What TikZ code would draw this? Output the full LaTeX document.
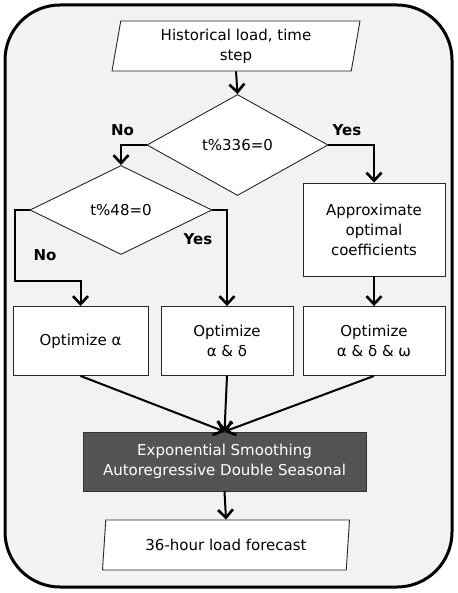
\documentclass[tikz,border=0pt]{standalone}
\usepackage{fontspec}
\setmainfont{DejaVu Sans}
\usetikzlibrary{shapes.geometric,arrows.meta}
\tikzset{
  base/.style={draw=black!85, line width=0.9pt, fill=white, align=center, inner sep=1pt,
    font=\fontsize{15}{20}\selectfont},
  boxn/.style={base, rectangle, minimum width=#1, minimum height=69},
  dia/.style={base, diamond, inner sep=0pt, minimum width=#1},
  io/.style={base, trapezium, trapezium left angle=76.5, trapezium right angle=103.5,
    trapezium stretches body=true, minimum width=248, minimum height=50},
  dark/.style={base, fill=black!67, draw=black!80, text=white!93, minimum width=283, minimum height=59},
  arr/.style={line width=2pt, -{Straight Barb[length=8pt,width=15pt,line width=2.6pt]}},
  lab/.style={font=\bfseries\fontsize{15}{16}\selectfont, inner sep=0pt},
}
\begin{document}
\begin{tikzpicture}[x=1pt,y=-1pt]
\useasboundingbox (0,0) rectangle (457,593);
\draw[line width=3pt, fill=black!5, rounded corners=55] (5,5) rectangle (452,587);

\node[io] (in) at (236,46) {Historical load, time\\step};
\node[dia=181, minimum height=101] (d1) at (237.5,145) {t\%336=0};
\node[dia=182, minimum height=89] (d2) at (121,210) {t\%48=0};
\node[boxn=142, minimum height=93] (ap) at (374,229.5) {Approximate\\optimal\\coefficients};
\node[boxn=135] (o1) at (80.5,341) {Optimize α};
\node[boxn=132] (o2) at (227,341) {Optimize\\α \& δ};
\node[boxn=142] (o3) at (374,341) {Optimize\\α \& δ \& ω};
\node[dark] (es) at (224.5,461.5) {Exponential Smoothing\\Autoregressive Double Seasonal};
\node[io, minimum width=247] (out) at (226,545) {36-hour load forecast};

\coordinate (k1) at (15,281);

\draw[arr] (in.south) -- (d1.north);
\draw[arr] (d1.west) -| (d2.north);
\draw[arr] (d1.east) -| (ap.north);
\draw[arr] (d2.west) -| (k1) -| (o1.north);
\draw[arr] (d2.east) -| (o2.north);
\draw[arr] (ap.south) -- (o3.north);
\draw[arr] (o1.south) -- (es.north);
\draw[arr] (o2.south) -- (es.north);
\draw[arr] (o3.south) -- (es.north);
\draw[arr] (es.south) -- (out.north);

\node[lab] (l1) at (122.5,130) {No};
\node[lab] (l2) at (347,130) {Yes};
\node[lab] (l3) at (45,255) {No};
\node[lab] (l4) at (198,239) {Yes};
\end{tikzpicture}
\end{document}
